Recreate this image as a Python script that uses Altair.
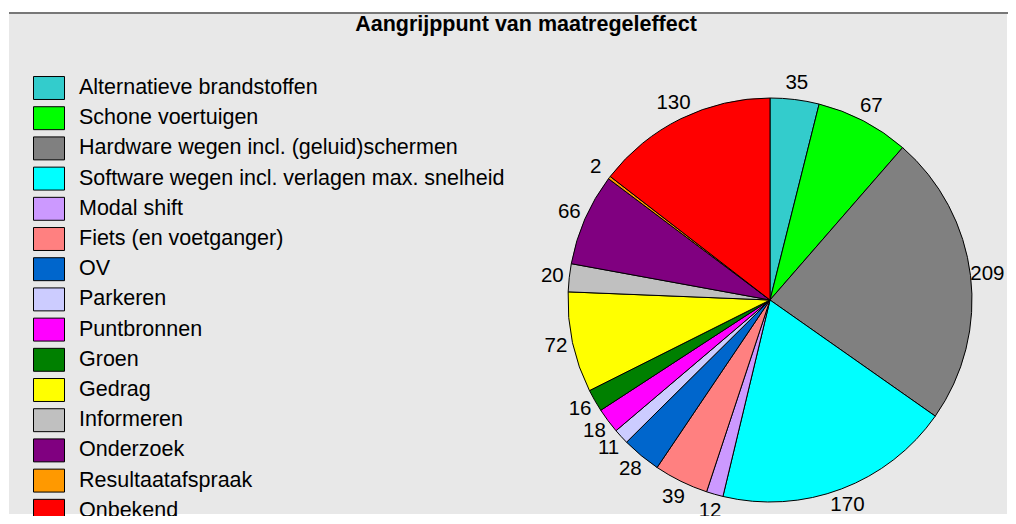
import altair as alt
import pandas as pd

categories = [
    "Alternatieve brandstoffen",
    "Schone voertuigen",
    "Hardware wegen incl. (geluid)schermen",
    "Software wegen incl. verlagen max. snelheid",
    "Modal shift",
    "Fiets (en voetganger)",
    "OV",
    "Parkeren",
    "Puntbronnen",
    "Groen",
    "Gedrag",
    "Informeren",
    "Onderzoek",
    "Resultaatafspraak",
    "Onbekend",
]
values = [35, 67, 209, 170, 12, 39, 28, 11, 18, 16, 72, 20, 66, 2, 130]
colors = [
    "#33CCCC", "#00FF00", "#808080", "#00FFFF", "#CC99FF",
    "#FF8080", "#0066CC", "#CCCCFF", "#FF00FF", "#008000",
    "#FFFF00", "#C0C0C0", "#800080", "#FF9900", "#FF0000",
]
title_text = "Aangrijppunt van maatregeleffect"

df = pd.DataFrame({"cat": categories, "value": values, "idx": list(range(len(values)))})

CX, CY, R = 761, 288, 202
FONT = "Liberation Sans"

base = alt.Chart(df).encode(
    theta=alt.Theta("value:Q", stack=True),
    order=alt.Order("idx:Q", sort="ascending"),
)

pie = base.mark_arc(outerRadius=R, stroke="black", strokeWidth=1).encode(
    x=alt.value(CX),
    y=alt.value(CY),
    color=alt.Color(
        "cat:N",
        scale=alt.Scale(domain=categories, range=colors),
        sort=categories,
        legend=alt.Legend(
            title=None,
            orient="none",
            legendX=24,
            legendY=60,
            symbolType="M-1,-0.74H1V0.74H-1Z",
            symbolSize=961,
            symbolStrokeColor="#000000",
            symbolStrokeWidth=1,
            symbolOpacity=1,
            labelFont=FONT,
            labelFontSize=21.5,
            labelColor="#000000",
            labelOffset=14,
            labelLimit=0,
            rowPadding=0.2,
            padding=0,
        ),
    ),
)

labels = base.mark_text(radius=219, font=FONT, fontSize=20.5, color="black",
                        align="center", baseline="middle").encode(
    x=alt.value(CX),
    y=alt.value(CY),
    detail="cat:N",
    text="value:Q",
)

title_df = pd.DataFrame({"t": [title_text]})
title = alt.Chart(title_df).mark_text(font=FONT, fontSize=21.5, fontWeight="bold",
                                      color="black", align="center", baseline="middle").encode(
    x=alt.value(517), y=alt.value(13), text="t:N"
)

topline = alt.Chart(title_df).mark_rule(color="#777777", strokeWidth=2).encode(
    x=alt.value(0), x2=alt.value(1000), y=alt.value(1)
)

chart = alt.layer(topline, pie, labels, title).properties(
    width=1000,
    height=508,
    padding={"top": 4, "left": 0, "right": 0, "bottom": 0},
    autosize=alt.AutoSizeParams(type="fit", contains="padding"),
    background="white",
).configure_view(fill="#E8E8E8", stroke=None)

chart.save("out.html", embed_options={"renderer": "svg", "actions": False})
